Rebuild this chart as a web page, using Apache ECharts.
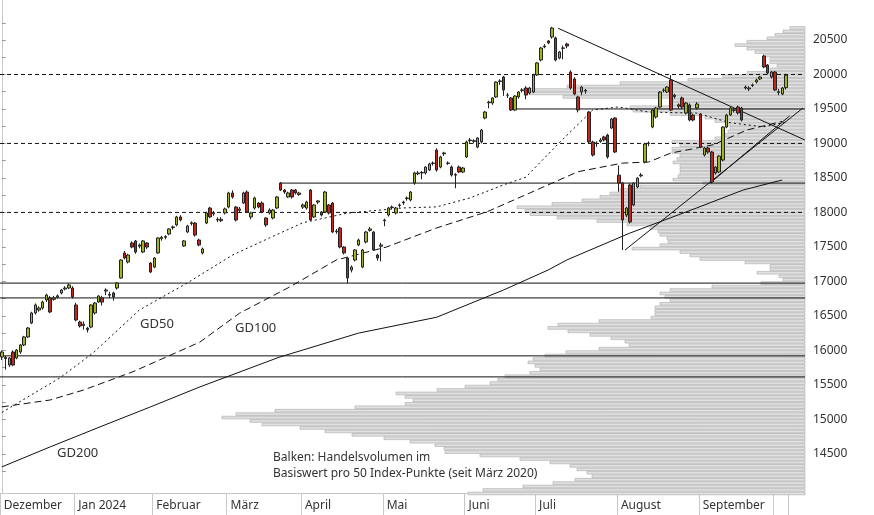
<!doctype html>
<html>
<head>
<meta charset="utf-8" />
<script src="https://cdn.jsdelivr.net/npm/echarts@6/dist/echarts.min.js"></script>
<style>
  body { margin: 0; background: #fff; }
  #chart { width: 874px; height: 515px; }
</style>
</head>
<body>
<div id="chart"></div>
<script>
// trading-day candles, [open, close, low, high]
const candles = [
  // Dezember
  [15904,15976,15860,16000],[15900,15880,15720,15920],[15788,15889,15760,15900],[15976,15788,15770,16000],
  [15889,16005,15870,16020],[15976,16078,15950,16090],[16078,16194,16060,16210],[16194,16324,16180,16340],
  [16396,16542,16380,16560],[16542,16658,16520,16680],[16585,16614,16560,16640],[16614,16701,16590,16720],
  [16730,16802,16700,16820],[16759,16556,16540,16790],[16740,16760,16720,16790],[16770,16790,16750,16810],
  [16832,16875,16810,16890],[16890,16904,16870,16930],[16904,16948,16890,16970],[16904,16774,16750,16930],
  // Januar
  [16658,16440,16420,16690],[16411,16353,16330,16430],[16360,16380,16300,16420],[16320,16300,16260,16340],
  [16338,16658,16320,16670],[16542,16686,16520,16700],[16701,16788,16690,16800],[16760,16700,16650,16790],
  [16860,16875,16800,16900],[16810,16800,16760,16850],[16832,16774,16720,16850],[16904,16976,16880,16990],
  [17049,17310,17040,17320],[17412,17339,17320,17440],[17281,17382,17260,17400],[17556,17498,17480,17580],
  [17586,17426,17400,17600],[17510,17528,17480,17550],[17426,17586,17410,17600],[17556,17498,17470,17570],
  [17266,17136,17120,17280],
  // Februar
  [17208,17339,17190,17350],[17412,17629,17400,17640],[17620,17640,17590,17660],[17640,17650,17610,17670],
  [17687,17760,17670,17770],[17780,17790,17750,17810],[17818,17934,17800,17950],[17934,17890,17870,17960],
  [17513,17586,17500,17600],[17716,17803,17700,17820],[17840,17850,17810,17870],[17846,17672,17650,17860],
  [17600,17528,17510,17620],[17412,17470,17390,17490],[17846,17992,17830,18010],[18064,17934,17920,18080],
  [17980,17995,17950,18020],[17900,17890,17860,17930],[17880,17900,17860,17930],[17992,18050,17970,18070],
  // März
  [18078,18282,18060,18300],[18282,18224,18200,18320],[18078,17890,17870,18090],[18030,18050,18000,18080],
  [18136,18282,18120,18300],[18296,18006,17990,18320],[17934,17992,17900,18010],[18064,18209,18040,18230],
  [18136,18078,18060,18150],[18136,18006,17990,18160],[17919,17818,17790,17930],[17992,18035,17970,18060],
  [17919,18035,17900,18050],[18064,18224,18050,18240],[18426,18325,18310,18440],[18325,18296,18270,18340],
  [18224,18282,18210,18300],[18325,18224,18200,18340],[18325,18282,18260,18340],[18260,18282,18240,18300],
  // April
  [18078,18108,18050,18130],[18064,18151,18040,18170],[18325,17890,17880,18340],[17934,18108,17920,18120],
  [18150,18166,18120,18180],[18006,17962,17940,18020],[18006,18296,17990,18310],[18108,17992,17970,18120],
  [18136,17716,17700,18150],[17720,17730,17690,17760],[17774,17498,17480,17790],[17498,17412,17390,17510],
  [17339,17049,16976,17350],[17165,17208,17130,17230],[17310,17455,17290,17470],[17528,17600,17510,17620],
  [17208,17455,17190,17470],[17571,17716,17550,17730],[17740,17760,17720,17790],[17716,17455,17440,17730],
  [17382,17339,17300,17400],[17510,17528,17290,17560],
  // Mai
  [17880,17890,17800,17910],[17962,18064,17940,18080],[18070,18078,18040,18100],[17992,18064,17970,18080],
  [18100,18108,18070,18130],[18140,18151,18110,18170],[18200,18209,18170,18230],[18180,18296,18160,18310],
  [18426,18572,18400,18590],[18560,18572,18540,18600],[18580,18572,18480,18600],[18572,18658,18550,18670],
  [18615,18702,18600,18720],[18710,18716,18680,18740],[18905,18615,18590,18930],[18658,18804,18640,18820],
  [18850,18862,18820,18880],[18710,18716,18690,18740],[18658,18542,18520,18680],[18540,18550,18350,18570],
  [18658,18586,18570,18680],[18586,18644,18570,18660],
  // Juni
  [18804,19021,18790,19040],[19040,19050,19010,19080],[19030,19040,19000,19060],[18948,19079,18930,19090],
  [19021,19195,19000,19210],[19369,19456,19350,19470],[19590,19601,19510,19620],[19586,19659,19560,19670],
  [19674,19891,19660,19900],[19900,19906,19850,19930],[19964,19775,19690,19980],[19700,19702,19660,19730],
  [19659,19485,19470,19670],[19485,19688,19470,19700],[19674,19746,19650,19760],[19770,19775,19740,19800],
  [19804,19702,19640,19830],[19732,19804,19710,19820],[19746,19993,19730,20010],
  // Juli
  [19993,20167,19980,20180],[20210,20384,20190,20400],[20400,20413,20380,20440],[20486,20457,20440,20500],
  [20544,20674,20520,20690],[20530,20210,20190,20550],[20239,20326,20220,20340],[20380,20384,20220,20420],
  [20442,20413,20380,20460],[20036,19804,19780,20060],[19935,19717,19700,19960],[19674,19485,19450,19690],
  [19746,19818,19700,19830],[19770,19760,19720,19790],[19456,19021,19000,19470],[19021,18832,18810,19040],
  [19000,19006,18950,19030],[19030,19050,19010,19080],[19094,19050,19030,19110],[19122,18804,18780,19140],
  [19224,19354,19210,19370],[19369,18876,18860,19380],
  // August
  [18540,18426,18300,18680],[18426,17890,17455,18440],[17962,18064,17930,18080],[18398,17861,17840,18420],
  [18108,18426,18090,18440],[18368,18499,18350,18510],[18530,18542,18510,18570],[18731,18992,18710,19010],
  [19000,19006,18960,19030],[19238,19485,19220,19500],[19384,19514,19360,19530],[19528,19746,19510,19760],
  [19770,19775,19740,19800],[19746,19818,19730,19830],[19920,19485,19470,19990],[19700,19680,19650,19720],
  [19560,19540,19500,19580],[19659,19528,19500,19680],[19442,19586,19420,19600],[19558,19340,19320,19580],
  [19412,19340,19320,19430],[19514,19572,19490,19600],
  // September
  [19427,18948,18930,19440],[18832,18934,18810,18950],[18934,18876,18850,18950],[18876,18441,18420,18890],
  [18572,18658,18550,18670],[18586,18818,18570,18830],[18760,19238,18740,19250],[19238,19412,19220,19430],
  [19412,19514,19400,19530],[19480,19485,19450,19510],[19528,19442,19420,19550],[19514,19340,19320,19530],
  [19804,19818,19780,19840],[19790,19804,19760,19830],[19840,19848,19820,19870],[19891,19920,19870,19940],
  [19935,19964,19920,19980],[20268,20109,20090,20290],[20138,20022,20000,20150],[19964,20036,19940,20050],
  // Oktober
  [20036,19775,19760,20050],[19750,19740,19700,19790],[19717,19804,19700,19820],[19810,19990,19780,20010]
];

const monthStarts = [0, 20, 41, 61, 81, 103, 125, 144, 166, 188, 208];
const monthNames = ['Dezember', 'Jan 2024', 'Februar', 'März', 'April', 'Mai', 'Juni', 'Juli', 'August', 'September', ''];

// moving averages: [day index, level]
const gd50 = [[0,15100],[15.6,15600],[24.5,15960],[37,16585],[50,16980],[62,17380],[72,17630],[81,17850],
  [93,17990],[108,18065],[117,18080],[126,18210],[135,18400],[141,18510],[150,19010],[159,19485],[166,19530],
  [174,19455],[187,19440],[196,19300],[205,19240],[211,19310]];
const gd100 = [[0,15180],[13,15280],[22,15425],[35.3,15690],[53.3,16120],[64,16540],[77.5,16920],[90,17310],
  [103.6,17500],[117,17775],[130.6,18010],[142,18280],[155,18590],[167,18715],[174,18730],[180,18860],
  [191.4,18980],[200.5,19195],[210,19320]];
const gd200 = [[0,14310],[13,14600],[26.4,14890],[40,15180],[53.3,15470],[74.6,15900],[96,16250],[117,16480],
  [135,16875],[147,17165],[152,17310],[169,17700],[187,18065],[199.5,18325],[210,18470]];

// volume profile: lowest level and width per 50-point band
const volStart = 13900;
const volStep = 50;
const volume = [
  337, 322, 282, 252, 230, 213, 218, 228, 235, 255, 285, 325, 360, 361, 370, 395, 421, 453, 480, 505,
  543, 555, 583, 569, 530, 450, 400, 392, 400, 409, 368, 340, 315, 307, 300, 275, 265, 270, 277, 272,
  260, 239, 206, 176, 180, 194, 215, 237, 257, 247, 206, 154, 150, 150, 150, 145, 135, 140, 145, 135,
  93, 44, 22, 26,
  48, 35, 35, 60, 105, 115, 125, 173, 145, 137, 138, 145, 147, 155, 178, 208, 248, 275, 280, 288,
  253, 223, 205, 195, 185, 165, 102, 132, 127, 125, 125, 125, 132, 128, 125, 133, 133, 125, 133, 90,
  80, 77, 75, 78, 90, 100, 135, 172, 175, 135, 132, 242, 275, 282, 238, 185, 117, 82, 58, 35,
  28, 35, 35, 40, 50, 58, 70, 58, 38, 30, 22, 15
];

const yTicks = [14500, 15000, 15500, 16000, 16500, 17000, 17500, 18000, 18500, 19000, 19500, 20000, 20500];
const yMinor = [14250, 14750, 15250, 15750, 16250, 16750, 17250, 17750, 18250, 18750, 19250, 19750, 20250, 20750];

const solidLevels = [18425, 19500, 16975, 16760, 15920, 15615];
const solidFrom = [74.8, 138.6, -0.5, -0.5, -0.5, -0.5];
const dashedLevels = [20000, 19000, 18000];

const trendLines = [
  [[149.7, 20670], [216.1, 19050]],
  [[167.7, 17455], [215.6, 19515]],
  [[190.6, 18425], [212, 19400]]
];

const Y_MIN = 13931.5, Y_MAX = 21080, X_MAX = 216.13;
const font = '"Noto Sans", "Open Sans", sans-serif';

const chart = echarts.init(document.getElementById('chart'), null, { renderer: 'canvas' });

const series = [];
series.push({
  type: 'custom', xAxisIndex: 2, yAxisIndex: 1, z: 1, silent: true,
  data: volume.map((w, k) => [w, volStart + k * volStep]),
  renderItem: (params, api) => {
    const a = api.coord([api.value(0), api.value(1) + volStep]);
    const b = api.coord([0, api.value(1)]);
    return { type: 'rect', shape: { x: a[0], y: a[1] + 0.4, width: b[0] - a[0], height: b[1] - a[1] - 0.8 },
      style: { fill: '#e0e0e0', stroke: '#b9b9b9', lineWidth: 0.8 } };
  }
});
const lineBase = { type: 'line', xAxisIndex: 1, yAxisIndex: 1, symbol: 'none', silent: true, z: 3, animation: false };
solidLevels.forEach((p, k) => series.push({ ...lineBase, data: [[solidFrom[k], p], [X_MAX, p]],
  lineStyle: { color: '#111', width: 1 } }));
dashedLevels.forEach(p => series.push({ ...lineBase, data: [[-0.5, p], [X_MAX, p]],
  lineStyle: { color: '#111', width: 1, type: [4, 3] } }));
trendLines.forEach(t => series.push({ ...lineBase, data: t, lineStyle: { color: '#111', width: 1 } }));
series.push({ ...lineBase, data: gd50, lineStyle: { color: '#111', width: 1, type: [2, 3] } });
series.push({ ...lineBase, data: gd100, lineStyle: { color: '#111', width: 1, type: [7, 4] } });
series.push({ ...lineBase, data: gd200, lineStyle: { color: '#111', width: 1 } });
series.push({
  type: 'candlestick', xAxisIndex: 0, yAxisIndex: 0, z: 5, barWidth: 3,
  data: candles,
  itemStyle: { color: '#a4b41e', color0: '#c0281e', borderColor: '#222', borderColor0: '#222', borderWidth: 1 }
});

chart.setOption({
  animation: false,
  backgroundColor: '#fff',
  grid: [
    { left: 0, right: 86, top: 0, bottom: 22 },
    { left: 0, right: 69, top: 0, bottom: 22 }
  ],
  xAxis: [
    { type: 'category', gridIndex: 0, data: candles.map((c, i) => String(i)), boundaryGap: true,
      axisLine: { show: false },
      axisTick: { show: true, interval: i => monthStarts.includes(i), length: 22, lineStyle: { color: '#c8c8c8' } },
      axisLabel: { interval: i => monthStarts.includes(i), formatter: (v, i) => monthNames[monthStarts.indexOf(i)],
        align: 'left', margin: 7, fontSize: 12, color: '#333', fontFamily: font, padding: [0, 0, 0, 2] },
      splitLine: { show: false } },
    { type: 'value', gridIndex: 1, min: -0.5, max: X_MAX, position: 'bottom',
      axisLine: { show: true, lineStyle: { color: '#c8c8c8' } }, axisTick: { show: false },
      axisLabel: { show: false }, splitLine: { show: false } },
    { type: 'value', gridIndex: 1, min: 0, max: 805, inverse: true, position: 'top', show: false }
  ],
  yAxis: [
    { type: 'value', gridIndex: 0, min: Y_MIN, max: Y_MAX, show: false },
    { type: 'value', gridIndex: 1, min: Y_MIN, max: Y_MAX, position: 'right',
      axisLine: { show: true, lineStyle: { color: '#c8c8c8' } },
      axisTick: { show: true, customValues: yTicks.concat(yMinor), length: 4, lineStyle: { color: '#999' } },
      axisLabel: { customValues: yTicks, formatter: v => String(v), fontSize: 12, color: '#333', fontFamily: font, margin: 8 },
      splitLine: { show: false } }
  ],
  graphic: [
    { type: 'text', left: 140, top: 318, style: { text: 'GD50', font: '13px ' + font, fill: '#333' } },
    { type: 'text', left: 235, top: 322, style: { text: 'GD100', font: '13px ' + font, fill: '#333' } },
    { type: 'text', left: 57, top: 447, style: { text: 'GD200', font: '13px ' + font, fill: '#333' } },
    { type: 'text', left: 273, top: 450, style: { text: 'Balken: Handelsvolumen im\nBasiswert pro 50 Index-Punkte (seit März 2020)',
      font: '12px ' + font, fill: '#333', lineHeight: 16 } }
  ],
  series
});
</script>
</body>
</html>
